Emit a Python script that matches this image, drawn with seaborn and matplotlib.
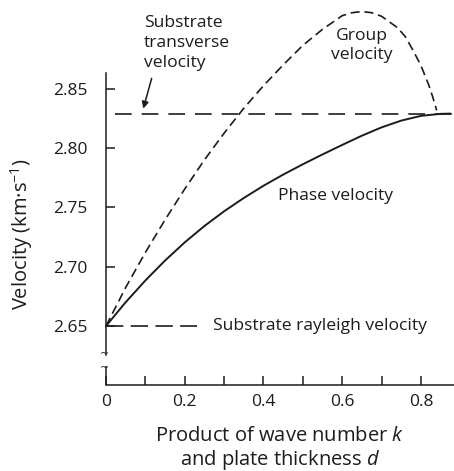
import matplotlib
matplotlib.use('Agg')
import matplotlib.pyplot as plt
import seaborn as sns
import pandas as pd
import numpy as np

sns.set_style('ticks')
plt.rcParams['font.family'] = ['Open Sans', 'DejaVu Sans']
plt.rcParams['mathtext.fontset'] = 'custom'
plt.rcParams['mathtext.rm'] = 'Open Sans'
plt.rcParams['mathtext.it'] = 'Open Sans:italic'
plt.rcParams['lines.scale_dashes'] = False

# ---- data ----
kd_phase = [0.00, 0.05, 0.10, 0.15, 0.20, 0.25, 0.30, 0.35, 0.40, 0.45,
            0.50, 0.55, 0.60, 0.65, 0.70, 0.75, 0.80, 0.85, 0.875]
v_phase = [2.6500, 2.6701, 2.6884, 2.7052, 2.7205, 2.7343, 2.7467, 2.7579, 2.7682,
           2.7776, 2.7863, 2.7946, 2.8026, 2.8104, 2.8174, 2.8231, 2.8271, 2.8288,
           2.8290]

kd_group = [0.00, 0.05, 0.10, 0.15, 0.20, 0.25, 0.30, 0.35, 0.40, 0.45, 0.50,
            0.55, 0.60, 0.625, 0.65, 0.675, 0.70, 0.74, 0.76, 0.78, 0.80, 0.82,
            0.83, 0.84]
v_group = [2.650, 2.6825, 2.712, 2.7395, 2.7655, 2.790, 2.8125, 2.8335, 2.8525,
           2.870, 2.8865, 2.900, 2.9115, 2.914, 2.915, 2.914, 2.911, 2.9015, 2.894,
           2.8823, 2.8695, 2.853, 2.843, 2.8317]

v_transverse = 2.829
v_rayleigh = 2.65
rayleigh_end = 0.232

y_ticks = [2.65, 2.70, 2.75, 2.80, 2.85]
y_labels = ['2.65', '2.70', '2.75', '2.80', '2.85']
x_ticks = [0, 0.1, 0.2, 0.3, 0.4, 0.5, 0.6, 0.7, 0.8]
x_labels = ['0', '', '0.2', '', '0.4', '', '0.6', '', '0.8']

df_phase = pd.DataFrame({'kd': kd_phase, 'v': v_phase})
df_group = pd.DataFrame({'kd': kd_group, 'v': v_group})

ink = '#1c1c1c'

fig = plt.figure(figsize=(4.54, 4.71), dpi=100)
ax = fig.add_axes([106 / 454, 85.6 / 471, 348 / 454, 379.8 / 471])

sns.lineplot(data=df_phase, x='kd', y='v', ax=ax, color=ink, lw=1.4,
             sort=False, estimator=None, clip_on=False)
sns.lineplot(data=df_group, x='kd', y='v', ax=ax, color=ink, lw=1.2,
             linestyle=(0, (6.5, 3.5)), sort=False, estimator=None, clip_on=False)

ax.axhline(v_transverse, color=ink, lw=1.2, linestyle=(12.7, (12, 7.2)))
ax.hlines(v_rayleigh, 0, rayleigh_end, color=ink, lw=1.2, linestyle=(0, (12.5, 5.3)))

ax.set_xlim(0, 0.884)
ax.set_ylim(2.60, 2.92)
ax.set_xticks(x_ticks)
ax.set_xticklabels(x_labels)
ax.set_yticks(y_ticks)
ax.set_yticklabels(y_labels)
ax.tick_params(direction='in', length=6.5, width=1.1, labelsize=12.5, colors=ink)
ax.tick_params(axis='y', pad=13)
ax.tick_params(axis='x', pad=6)
ax.set_xlabel('')
ax.set_ylabel('')

sns.despine(ax=ax)
for s in ['left', 'bottom']:
    ax.spines[s].set_linewidth(1.1)
    ax.spines[s].set_color(ink)
ax.spines['left'].set_bounds(2.6254, 2.863)
# lower piece of the broken y axis
ax.vlines(0, 2.60, 2.6167, color=ink, lw=1.1, clip_on=False)
ax.text(-0.004, 2.6265, '~', ha='center', va='center', fontsize=8, color=ink,
        family='DejaVu Sans')
ax.text(-0.004, 2.6145, '~', ha='center', va='center', fontsize=8, color=ink,
        family='DejaVu Sans')

# annotations
ax.annotate('', xy=(0.0947, 2.8332), xytext=(0.116, 2.8587),
            arrowprops=dict(arrowstyle='-|>', color=ink, lw=1.1,
                            mutation_scale=10, shrinkA=0, shrinkB=0),
            annotation_clip=False)
ax.text(0.0965, 2.8885, 'Substrate\ntransverse\nvelocity', ha='left', va='center',
        fontsize=12.6, color=ink, linespacing=1.3, clip_on=False)
ax.text(0.650, 2.8865, 'Group\nvelocity', ha='center', va='center',
        fontsize=12.6, color=ink, linespacing=1.22)
ax.text(0.584, 2.7593, 'Phase velocity', ha='center', va='center',
        fontsize=12.6, color=ink)
ax.text(0.272, v_rayleigh, 'Substrate rayleigh velocity', ha='left', va='center',
        fontsize=12.6, color=ink)

fig.text(280 / 454, 1 - 449 / 471, 'Product of wave number $k$\nand plate thickness $d$',
         ha='center', va='center', fontsize=14.5, color=ink, linespacing=1.1)
fig.text(22 / 454, 1 - 234 / 471, 'Velocity (km·s$^{-1}$)', rotation=90,
         ha='center', va='center', fontsize=14.5, color=ink)

fig.savefig('out.png', dpi=100)
